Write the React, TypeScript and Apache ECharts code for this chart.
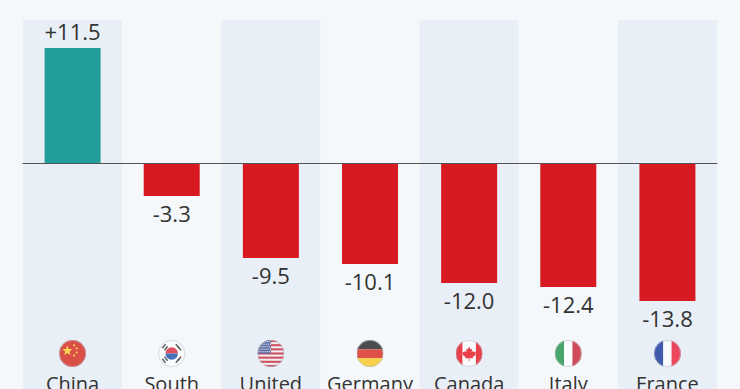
import React, { useEffect, useRef } from "react";
import * as echarts from "echarts";

const categories = ["China", "South\nKorea", "United\nStates", "Germany", "Canada", "Italy", "France"];
const values = [11.5, -3.3, -9.5, -10.1, -12.0, -12.4, -13.8];
const flagLevel = [-19.05, -19.05, -19.05, -19.05, -19.05, -19.05, -19.05];

const usStars = (() => {
  const out: string[] = [];
  for (let r = 0; r < 5; r++) for (let c = 0; c < 6; c++) out.push(`<circle cx="${1.5 + c * 2 + (r % 2)}" cy="${1.6 + r * 2.4}" r=".55" fill="#fff"/>`);
  return out.join("");
})();
const usStripes = [0, 4, 8, 12, 16, 20, 24].map((y) => `<rect x="0" y="${y}" width="26" height="2" fill="#c8283c"/>`).join("");

const flagArt = [
  `<rect width="26" height="26" fill="#d8281e"/><polygon points="8,5 9.3,8.6 13,8.7 10,11 11.1,14.6 8,12.5 4.9,14.6 6,11 3,8.7 6.7,8.6" fill="#ffd02b"/><circle cx="14.5" cy="5" r="1" fill="#ffd02b"/><circle cx="17" cy="8" r="1" fill="#ffd02b"/><circle cx="17" cy="12" r="1" fill="#ffd02b"/><circle cx="14.5" cy="15" r="1" fill="#ffd02b"/>`,
  `<rect width="26" height="26" fill="#fff"/><path d="M7 13a6 6 0 0 1 12 0z" fill="#d8283c"/><path d="M7 13a6 6 0 0 0 12 0z" fill="#1d50a8"/><path d="M4 8l3-4M6 10l3-4M17 4l3 4M19 6l3 4M4 18l3 4M6 16l3 4M17 22l3-4M19 20l3-4" stroke="#333" stroke-width="1.4"/>`,
  `<rect width="26" height="26" fill="#f4f0f0"/>${usStripes}<rect width="13" height="13" fill="#3c4f94"/>${usStars}`,
  `<rect width="26" height="9" fill="#222"/><rect y="9" width="26" height="8.5" fill="#d8281e"/><rect y="17.5" width="26" height="8.5" fill="#fcc71c"/>`,
  `<rect width="26" height="26" fill="#fff"/><rect width="6.5" height="26" fill="#e8141f"/><rect x="19.5" width="6.5" height="26" fill="#e8141f"/><path d="M13 6.5l1.5 2.6 1.5-.7-.6 3.4 1.7-1.4.5 1.3 2-.3-.7 2.1.8.5-3.4 2.6.4 1.2-3.3-.4v3h-.8v-3l-3.3.4.4-1.2-3.4-2.6.8-.5-.7-2.1 2 .3.5-1.3 1.7 1.4-.6-3.4 1.5.7z" fill="#e8141f"/>`,
  `<rect width="9" height="26" fill="#1f9148"/><rect x="9" width="8" height="26" fill="#fff"/><rect x="17" width="9" height="26" fill="#c82033"/>`,
  `<rect width="9" height="26" fill="#16379a"/><rect x="9" width="8" height="26" fill="#fff"/><rect x="17" width="9" height="26" fill="#ee1c36"/>`,
];

const flagUri = (art: string) =>
  "image://data:image/svg+xml;charset=utf-8," +
  encodeURIComponent(
    `<svg xmlns="http://www.w3.org/2000/svg" width="26" height="26" viewBox="0 0 26 26"><defs><clipPath id="c"><circle cx="13" cy="13" r="13"/></clipPath></defs><g clip-path="url(#c)">${art}</g><circle cx="13" cy="13" r="12.6" fill="none" stroke="#aab0b8" stroke-width=".6"/></svg>`
  );

const FONT = "'Open Sans', sans-serif";

export default function App() {
  const ref = useRef<HTMLDivElement>(null);
  useEffect(() => {
    document.body.style.margin = "0";
    const chart = echarts.init(ref.current!, undefined, { renderer: "svg" });
    chart.setOption({
      animation: false,
      backgroundColor: "#f4f8fb",
      grid: { left: 23, right: 23, top: 20, bottom: 0, outerBoundsMode: "none", containLabel: false },
      xAxis: [
        {
          type: "category",
          data: categories,
          position: "bottom",
          axisLine: { show: false, onZero: false },
          axisTick: { show: false },
          axisLabel: {
            inside: true,
            interval: 0,
            margin: 19,
            verticalAlign: "top",
            lineHeight: 26,
            color: "#333333",
            fontFamily: FONT,
            fontSize: 20,
            hideOverlap: false,
          },
          splitArea: { show: true, interval: 0, areaStyle: { color: ["#e9eff6", "#f4f8fb"] } },
        },
        {
          type: "category",
          data: categories,
          position: "bottom",
          z: 6,
          axisLine: { show: true, onZero: true, lineStyle: { color: "#555555", width: 1 } },
          axisTick: { show: false },
          axisLabel: { show: false },
        },
      ],
      yAxis: { type: "value", min: -22.6, max: 14.3, show: false, splitLine: { show: false } },
      series: [
        {
          type: "bar",
          data: values.map((v) => ({ value: v, itemStyle: { color: v > 0 ? "#229d9a" : "#d71a22" } })),
          barWidth: 56,
          label: {
            show: true,
            position: "outside",
            distance: 6,
            color: "#333333",
            fontFamily: FONT,
            fontSize: 22,
            formatter: (p: any) => (p.value > 0 ? "+" : "") + p.value.toFixed(1),
          },
        },
        {
          type: "scatter",
          data: flagLevel.map((v, i) => ({ value: [i, v], symbol: flagUri(flagArt[i]) })),
          symbolSize: 27,
          silent: true,
        },
      ],
    });
    return () => chart.dispose();
  }, []);
  return <div ref={ref} style={{ width: 740, height: 389, overflow: "hidden" }} />;
}
